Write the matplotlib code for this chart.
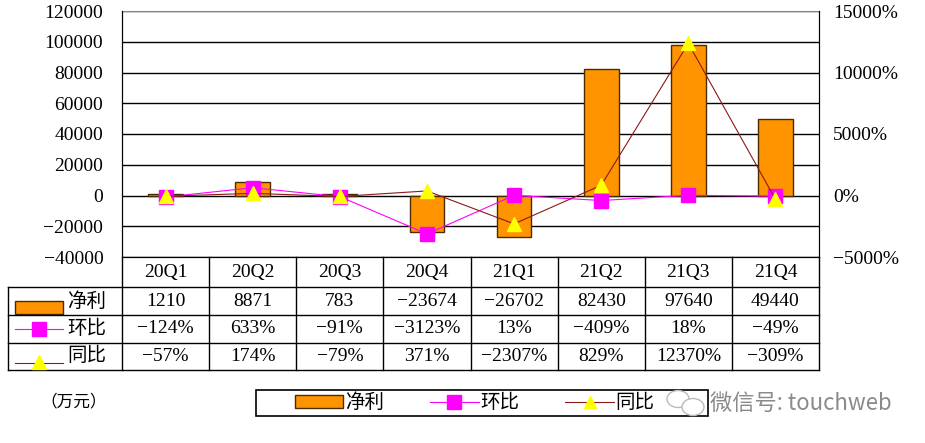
import matplotlib
matplotlib.use("Agg")
import matplotlib.pyplot as plt
import matplotlib.transforms as mtransforms
from matplotlib.lines import Line2D
from matplotlib.patches import Rectangle, Patch, Ellipse

# ---------------- data ----------------
quarters = ['20Q1', '20Q2', '20Q3', '20Q4', '21Q1', '21Q2', '21Q3', '21Q4']
net_profit = [1210, 8871, 783, -23674, -26702, 82430, 97640, 49440]
qoq_pct = [-124, 633, -91, -3123, 13, -409, 18, -49]
yoy_pct = [-57, 174, -79, 371, -2307, 829, 12370, -309]
series_names = ['净利', '环比', '同比']
left_ticks = [-40000, -20000, 0, 20000, 40000, 60000, 80000, 100000, 120000]
right_ticks = [-5000, 0, 5000, 10000, 15000]
unit_label = '（万元）'
watermark = '微信号: touchweb'

# ---------------- style ----------------
FONT = ['Liberation Serif', 'Noto Sans CJK SC', 'DejaVu Sans']
plt.rcParams['font.family'] = FONT
BAR_C = '#FF9400'
BAR_EDGE = '#4a2c00'
QOQ_C = '#FF00FF'
YOY_C = '#8B1A1A'
TRI_C = '#FFFF00'
FS = 14

def fmt_num(v):
    return str(v).replace('-', '−')

def fmt_pct(v):
    return (str(v) + '%').replace('-', '−')

W, H = 925, 443
fig = plt.figure(figsize=(W / 100, H / 100), dpi=100)
L, R, T, B = 122, 819, 11, 257
ax = fig.add_axes([L / W, 1 - B / H, (R - L) / W, (B - T) / H])

x = list(range(len(quarters)))
ax.bar(x, net_profit, width=0.4, color=BAR_C, edgecolor=BAR_EDGE, linewidth=1.0, zorder=3)
ax.set_xlim(-0.5, len(quarters) - 0.5)
ax.set_ylim(left_ticks[0], left_ticks[-1])
ax.set_yticks(left_ticks)
ax.set_yticklabels([fmt_num(v) for v in left_ticks])
ax.set_xticks([])
ax.yaxis.grid(True, color='black', linewidth=1.0)
ax.set_axisbelow(True)
ax.tick_params(axis='y', length=0, pad=13.5, labelsize=FS)
ax.spines['top'].set_color('#888888')
for s in ['left', 'right', 'bottom']:
    ax.spines[s].set_color('black')

ax2 = ax.twinx()
ax2.set_ylim(right_ticks[0], right_ticks[-1])
ax2.set_yticks(right_ticks)
ax2.set_yticklabels([fmt_pct(v) for v in right_ticks])
ax2.tick_params(axis='y', length=0, pad=10, labelsize=FS)
ax2.spines['top'].set_visible(False)
ax2.plot(x, qoq_pct, color=QOQ_C, linewidth=0.8, marker='s', markersize=10,
         markerfacecolor=QOQ_C, markeredgecolor=QOQ_C, zorder=4)
ax2.plot(x, yoy_pct, color=YOY_C, linewidth=0.8, marker='^', markersize=9.5,
         markerfacecolor=TRI_C, markeredgecolor=TRI_C, zorder=5)

# ---------------- data table ----------------
def ay(py):
    return (B - py) / (B - T)

def axx(px):
    return (px - L) / (R - L)

trans = mtransforms.blended_transform_factory(ax.transData, ax.transAxes)
rows_y = [257, 287.3, 315, 342.7, 370]
lab_left = 7.5
lw = 1.0
for i in range(len(quarters) + 1):
    ax.add_line(Line2D([i - 0.5, i - 0.5], [ay(rows_y[0]), ay(rows_y[-1])], transform=trans,
                       color='black', lw=lw, clip_on=False))
for py in rows_y[1:]:
    ax.add_line(Line2D([axx(lab_left), 1.0], [ay(py), ay(py)], transform=ax.transAxes,
                       color='black', lw=lw, clip_on=False))
ax.add_line(Line2D([axx(lab_left), axx(lab_left)], [ay(rows_y[1]), ay(rows_y[-1])],
                   transform=ax.transAxes, color='black', lw=lw, clip_on=False))

def cy(k):
    return ay((rows_y[k] + rows_y[k + 1]) / 2)

for i, q in enumerate(quarters):
    ax.text(i, cy(0), q, transform=trans, ha='center', va='center', fontsize=FS)
    ax.text(i, cy(1), fmt_num(net_profit[i]), transform=trans, ha='center', va='center', fontsize=FS)
    ax.text(i, cy(2), fmt_pct(qoq_pct[i]), transform=trans, ha='center', va='center', fontsize=FS)
    ax.text(i, cy(3), fmt_pct(yoy_pct[i]), transform=trans, ha='center', va='center', fontsize=FS)

# row labels with keys
k0, k1 = axx(15), axx(63)
ax.add_patch(Rectangle((k0, ay(314)), k1 - k0, ay(301) - ay(314), transform=ax.transAxes,
                       facecolor=BAR_C, edgecolor=BAR_EDGE, lw=1.0, clip_on=False))
ax.add_line(Line2D([k0, k1], [cy(2), cy(2)], transform=ax.transAxes, color=QOQ_C, lw=0.8, clip_on=False))
ax.add_line(Line2D([(k0 + k1) / 2], [cy(2)], transform=ax.transAxes, marker='s', markersize=10,
                   markerfacecolor=QOQ_C, markeredgecolor=QOQ_C, clip_on=False))
ax.add_line(Line2D([k0, k1], [ay(363), ay(363)], transform=ax.transAxes, color=YOY_C, lw=0.8, clip_on=False))
ax.add_line(Line2D([(k0 + k1) / 2], [ay(362)], transform=ax.transAxes, marker='^', markersize=9.5,
                   markerfacecolor=TRI_C, markeredgecolor=TRI_C, clip_on=False))
for k, name in enumerate(series_names):
    ax.text(axx(67), cy(k + 1), name, transform=ax.transAxes, ha='left', va='center', fontsize=FS)

# ---------------- legend ----------------
fig.patches.append(Rectangle((256 / W, 1 - 416 / H), (708 - 256) / W, 26 / H,
                             transform=fig.transFigure, facecolor='white', edgecolor='black', lw=1.2))
handles = [
    Patch(facecolor=BAR_C, edgecolor=BAR_EDGE, lw=1.0),
    Line2D([], [], color=QOQ_C, lw=0.8, marker='s', markersize=9.5, markerfacecolor=QOQ_C, markeredgecolor=QOQ_C),
    Line2D([], [], color=YOY_C, lw=0.8, marker='^', markersize=8.5, markerfacecolor=TRI_C, markeredgecolor=TRI_C),
]
fig.legend(handles, series_names, loc='center left', bbox_to_anchor=(285 / W, 1 - 403 / H),
           ncol=3, frameon=False, borderpad=0, handlelength=2.5, handletextpad=0.1,
           columnspacing=2.35, fontsize=FS, handleheight=0.6)

fig.text(40 / W, 1 - 402 / H, unit_label, ha='left', va='center', fontsize=12)

# watermark with simple chat-bubble icon
fig.patches.append(Ellipse((678 / W, 1 - 399 / H), 22 / W, 17 / H, transform=fig.transFigure,
                           facecolor='none', edgecolor='#bbbbbb', lw=1.0))
fig.patches.append(Ellipse((693 / W, 1 - 407 / H), 22 / W, 17 / H, transform=fig.transFigure,
                           facecolor='white', edgecolor='#bbbbbb', lw=1.0))
fig.text(710 / W, 1 - 403 / H, watermark, ha='left', va='center', fontsize=16, color='#8a8a8a',
         family=['Noto Sans CJK SC', 'DejaVu Sans'])

fig.savefig('out.png', dpi=100, facecolor='white')
